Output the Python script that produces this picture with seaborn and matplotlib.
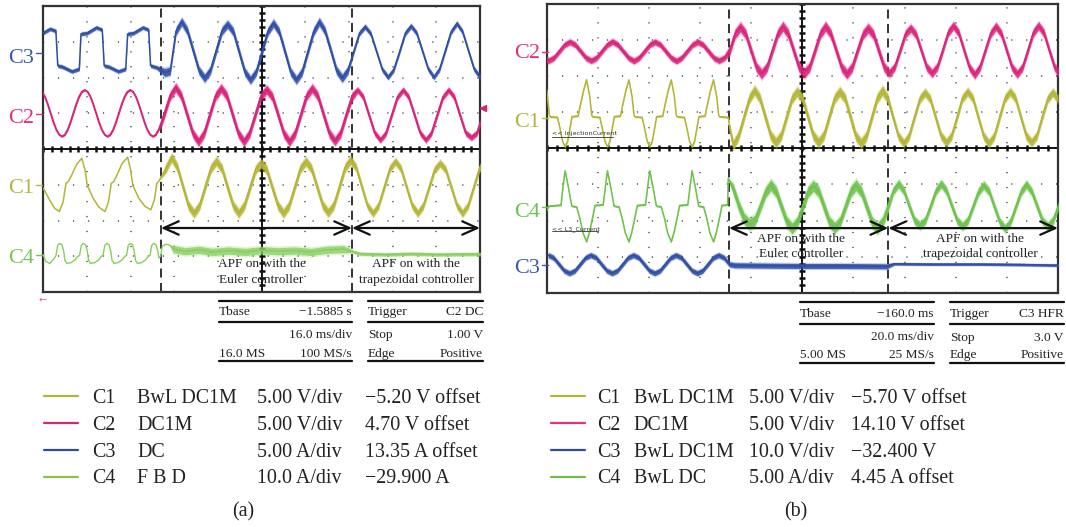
import numpy as np
import matplotlib
matplotlib.use("Agg")
import matplotlib.pyplot as plt
from matplotlib.lines import Line2D
import seaborn as sns

W, H = 1066, 527

# ------------------------------------------------------------------
# (a) 16 ms/div : time in ms, level in screen divisions (centre = 0)
# ------------------------------------------------------------------
A_SPAN, A_EULER, A_TRAP = 160.0, 43.1, 113.1

c3a_key_t = [0.0, 2.5, 4.6, 5.3, 7.0, 10.5, 13.2, 13.8, 16.0, 19.5, 21.6, 22.3,
             24.0, 27.5, 30.2, 30.9, 33.0, 36.5, 38.6, 39.3, 41.5, 44.5, 46.5]
c3a_key_v = [3.25, 3.36, 3.30, 2.33, 2.30, 2.17, 2.24, 3.22, 3.24, 3.40, 3.33, 2.33,
             2.30, 2.17, 2.24, 3.22, 3.24, 3.40, 3.33, 2.33, 2.28, 2.14, 2.18]
c3a_t0, c3a_dt = 48.62, 2.10
c3a_v = [3.30, 3.56, 3.30, 2.75, 2.20, 1.98, 2.20, 2.75,
         3.30, 3.49, 3.28, 2.72, 2.16, 1.93, 2.16, 2.72,
         3.28, 3.52, 3.28, 2.72, 2.16, 1.93, 2.16, 2.72,
         3.28, 3.56, 3.30, 2.76, 2.20, 1.98, 2.20, 2.72,
         3.24, 3.42, 3.22, 2.72, 2.22, 2.01, 2.22, 2.72,
         3.24, 3.44, 3.24, 2.74, 2.24, 2.01, 2.24, 2.76,
         3.28, 3.51, 3.28, 2.76, 2.24, 2.02, 2.24]

# C2 before the APF is a clean sine, sampled finer
c2a_pre_t0, c2a_pre_dt = -1.47, 1.0417
c2a_pre_v = [1.65, 1.60, 1.46, 1.25, 1.00, 0.75, 0.54, 0.40, 0.35, 0.40, 0.54, 0.75, 1.00, 1.25, 1.46, 1.60,
             1.65, 1.60, 1.46, 1.25, 1.00, 0.75, 0.54, 0.40, 0.35, 0.40, 0.54, 0.75, 1.00, 1.25, 1.46, 1.60,
             1.65, 1.60, 1.46, 1.25, 1.00, 0.75, 0.54, 0.40, 0.35, 0.40, 0.54, 0.75]
c2a_t0, c2a_dt = 44.36, 2.083
c2a_v = [0.98, 1.48,
         1.72, 1.48, 0.96, 0.44, 0.20, 0.44, 0.96, 1.48,
         1.70, 1.48, 0.96, 0.44, 0.20, 0.44, 0.96, 1.48,
         1.66, 1.46, 0.96, 0.44, 0.20, 0.44, 0.96, 1.48,
         1.70, 1.48, 0.96, 0.44, 0.22, 0.44, 0.96, 1.46,
         1.65, 1.45, 0.95, 0.45, 0.25, 0.45, 0.95, 1.45,
         1.65, 1.45, 0.95, 0.45, 0.25, 0.45, 0.95, 1.45,
         1.65, 1.45, 0.95, 0.45, 0.32, 0.45, 0.95]

c1a_key_t = [0.0, 2.5, 4.2, 5.9, 7.3, 8.3, 9.2, 10.4, 12.3, 14.1, 15.3, 16.1, 16.9, 18.3, 20.3, 22.6,
             23.9, 24.9, 25.8, 27.0, 28.9, 30.9, 32.0, 32.8, 33.6, 35.0, 37.2, 39.4, 40.7, 41.6, 42.5]
c1a_key_v = [-1.10, -1.45, -1.66, -1.75, -1.47, -0.96, -0.91, -0.73, -0.42, -0.26, -0.59, -1.01,
             -1.15, -1.38, -1.62, -1.75, -1.47, -0.96, -0.91, -0.73, -0.40, -0.23, -0.59, -1.01,
             -1.15, -1.38, -1.60, -1.70, -1.42, -0.96, -0.88]
c1a_t0, c1a_dt = 44.95, 2.05
c1a_v = [-0.54, -0.24, -0.50, -1.04, -1.58, -1.80, -1.58, -1.06,
         -0.55, -0.34, -0.55, -1.07, -1.58, -1.80, -1.58, -1.08,
         -0.58, -0.40, -0.58, -1.08, -1.58, -1.80, -1.58, -1.07,
         -0.55, -0.35, -0.55, -1.06, -1.57, -1.78, -1.57, -1.05,
         -0.52, -0.31, -0.52, -1.06, -1.58, -1.80, -1.58, -1.07,
         -0.55, -0.35, -0.55, -1.07, -1.58, -1.80, -1.58, -1.08,
         -0.58, -0.40, -0.58, -1.08, -1.58, -1.80, -1.58, -1.07,
         -0.55, -0.34]

c4a_t = [0.0, 0.8, 2.4, 4.0, 4.65, 5.25, 5.95, 6.85, 7.45, 7.95, 8.65, 10.15, 11.65, 12.7,
         13.3, 13.9, 14.6, 15.5, 16.1, 16.6, 17.3, 18.8, 20.3, 21.3,
         21.9, 22.5, 23.2, 24.1, 24.7, 25.2, 25.9, 27.4, 28.9, 29.9,
         30.5, 31.1, 31.8, 32.7, 33.3, 33.8, 34.5, 36.0, 37.5, 38.5,
         39.1, 39.7, 40.4, 41.3, 41.9, 42.4, 43.0, 43.6, 45.0, 46.5, 47.5,
         52, 57, 62, 68, 74, 80, 86, 92, 98, 104, 110, 113.1, 116, 125, 135, 145, 155, 160.5]
c4a_v = [-2.96, -3.14, -3.20, -3.06, -2.98, -2.70, -2.64, -2.68, -2.85, -3.12, -3.20, -3.18, -3.10, -3.00,
         -2.98, -2.70, -2.64, -2.68, -2.85, -3.12, -3.20, -3.18, -3.10, -3.00,
         -2.98, -2.70, -2.64, -2.68, -2.85, -3.12, -3.20, -3.18, -3.10, -3.00,
         -2.98, -2.70, -2.64, -2.68, -2.85, -3.12, -3.20, -3.18, -3.10, -3.00,
         -2.98, -2.70, -2.64, -2.68, -2.85, -3.05, -3.00, -2.72, -2.66, -2.70, -2.80,
         -2.86, -2.82, -2.88, -2.84, -2.88, -2.83, -2.86, -2.84, -2.88, -2.82, -2.80, -2.86,
         -2.93, -2.95, -2.93, -2.95, -2.94, -2.94]

# ------------------------------------------------------------------
# (b) 20 ms/div
# ------------------------------------------------------------------
B_SPAN, B_EULER, B_TRAP = 200.0, 71.3, 133.6

c2b_t0, c2b_dt = -1.32, 2.083
c2b_v = [2.51, 2.43, 2.51, 2.69, 2.87, 2.95, 2.87, 2.69,
         2.51, 2.43, 2.51, 2.69, 2.87, 2.96, 2.87, 2.69,
         2.51, 2.42, 2.51, 2.69, 2.87, 2.95, 2.87, 2.69,
         2.51, 2.42, 2.51, 2.69, 2.87, 2.95, 2.87, 2.69,
         2.51, 2.43, 2.51, 2.71, 3.17, 3.36, 3.17, 2.71,
         2.25, 2.06, 2.25, 2.71, 3.17, 3.38, 3.17, 2.71,
         2.25, 2.08, 2.25, 2.71, 3.17, 3.38, 3.17, 2.71,
         2.25, 2.06, 2.25, 2.71, 3.15, 3.33, 3.15, 2.70,
         2.25, 2.08, 2.26, 2.71, 3.17, 3.33, 3.15, 2.70,
         2.25, 2.08, 2.26, 2.72, 3.20, 3.40, 3.20, 2.72,
         2.25, 2.04, 2.25, 2.72, 3.18, 3.38, 3.18, 2.72,
         2.25, 2.06, 2.25, 2.72, 3.20, 3.40, 3.20, 2.72,
         2.25, 2.06]

c1b_key_t = [0.0, 1.05, 1.35, 4.2, 5.2, 6.2, 7.2, 8.2, 9.2, 9.9, 12.3, 13.0, 14.4, 15.6, 16.8, 17.6, 17.9,
             20.75, 21.75, 22.75, 23.75, 24.75, 25.75, 26.45, 28.85, 29.55, 30.95, 32.15, 33.35, 34.15, 34.45,
             37.3, 38.3, 39.3, 40.3, 41.3, 42.3, 43.0, 45.4, 46.1, 47.5, 48.7, 49.9, 50.7, 51.0,
             53.85, 54.85, 55.85, 56.85, 57.85, 58.85, 59.55, 61.95, 62.65, 64.05, 65.25, 66.45, 67.25, 67.55,
             71.0, 72.0]
c1b_key_v = [1.62, 0.92, 0.875, 0.86, 0.55, 0.20, 0.04, 0.20, 0.60, 0.88, 0.90, 1.15, 1.60, 1.90, 1.45, 0.92, 0.875,
             0.86, 0.55, 0.20, 0.04, 0.20, 0.60, 0.88, 0.90, 1.15, 1.60, 1.90, 1.45, 0.92, 0.875,
             0.86, 0.55, 0.20, 0.04, 0.20, 0.60, 0.88, 0.90, 1.15, 1.60, 1.90, 1.45, 0.92, 0.875,
             0.86, 0.55, 0.20, 0.04, 0.20, 0.60, 0.88, 0.90, 1.15, 1.60, 1.90, 1.45, 0.92, 0.875,
             0.86, 0.40]
c1b_t0, c1b_dt = 73.0, 2.083
c1b_v = [0.09, 0.36, 0.87, 1.38, 1.61, 1.38, 0.87, 0.36,
         0.16, 0.36, 0.87, 1.38, 1.57, 1.38, 0.87, 0.36,
         0.16, 0.36, 0.87, 1.38, 1.57, 1.38, 0.86, 0.34,
         0.14, 0.34, 0.86, 1.38, 1.60, 1.38, 0.86, 0.34,
         0.14, 0.34, 0.86, 1.36, 1.55, 1.36, 0.85, 0.35,
         0.16, 0.35, 0.86, 1.38, 1.57, 1.38, 0.86, 0.34,
         0.14, 0.34, 0.86, 1.38, 1.57, 1.38, 0.86, 0.35,
         0.16, 0.35, 0.86, 1.36, 1.55, 1.36]

c4b_key_t = [0.0, 0.8, 5.6, 6.3, 7.2, 8.4, 9.8, 11.7, 13.0, 14.2, 15.6, 16.8, 18.0, 18.9, 22.1, 22.8,
             23.75, 24.95, 26.35, 28.25, 29.55, 30.75, 32.15, 33.35, 34.55, 35.45, 38.65, 39.35,
             40.3, 41.5, 42.9, 44.8, 46.1, 47.3, 48.7, 49.9, 51.1, 52.0, 55.2, 55.9,
             56.85, 58.05, 59.45, 61.35, 62.65, 63.85, 65.25, 66.45, 67.65, 68.55, 70.8]
c4b_key_v = [-1.72, -1.60, -1.57, -1.10, -0.62, -1.05, -1.60, -1.62, -1.95, -2.35, -2.59, -2.30, -1.90, -1.58, -1.56, -1.15,
             -0.62, -1.05, -1.60, -1.62, -1.95, -2.35, -2.59, -2.30, -1.90, -1.58, -1.56, -1.15,
             -0.62, -1.05, -1.60, -1.62, -1.95, -2.35, -2.59, -2.30, -1.90, -1.58, -1.56, -1.15,
             -0.62, -1.05, -1.60, -1.62, -1.95, -2.35, -2.59, -2.30, -1.90, -1.58, -1.56]
c4b_t0, c4b_dt = 71.0, 2.083
c4b_v = [-0.83, -1.15, -1.60, -1.95, -2.10, -2.00, -1.62, -1.22,
         -1.02, -1.20, -1.62, -2.04, -2.22, -2.04, -1.62, -1.20,
         -1.04, -1.20, -1.62, -2.04, -2.20, -2.04, -1.62, -1.20,
         -1.02, -1.20, -1.62, -2.04, -2.22, -2.04, -1.62, -1.18,
         -0.98, -1.18, -1.60, -2.00, -2.14, -2.00, -1.60, -1.18,
         -0.98, -1.18, -1.60, -2.00, -2.16, -2.00, -1.60, -1.20,
         -1.02, -1.20, -1.62, -2.04, -2.22, -2.04, -1.62, -1.20,
         -1.00, -1.20, -1.60, -2.00, -2.16, -2.00, -1.60]

c3b_t0, c3b_dt = 0.6, 2.083
c3b_v = [-2.96, -3.03, -3.21, -3.39, -3.46, -3.39, -3.21, -3.03,
         -2.96, -3.03, -3.21, -3.39, -3.46, -3.39, -3.21, -3.03,
         -2.96, -3.03, -3.21, -3.39, -3.46, -3.39, -3.21, -3.03,
         -2.96, -3.03, -3.21, -3.39, -3.46, -3.39, -3.21, -3.03,
         -2.96, -3.03, -3.21]
c3b_key_t = [73.5, 85, 100, 115, 133.0, 136, 150, 170, 185, 200.5]
c3b_key_v = [-3.24, -3.25, -3.26, -3.26, -3.27, -3.20, -3.21, -3.21, -3.22, -3.24]

# legend / readout text
legend_a = [("C1", "BwL DC1M", "5.00 V/div", "\u22125.20 V offset"),
            ("C2", "DC1M", "5.00 V/div", "4.70 V offset"),
            ("C3", "DC", "5.00 A/div", "13.35 A offset"),
            ("C4", "F B D", "10.0 A/div", "\u221229.900 A")]
legend_b = [("C1", "BwL DC1M", "5.00 V/div", "\u22125.70 V offset"),
            ("C2", "DC1M", "5.00 V/div", "14.10 V offset"),
            ("C3", "BwL DC1M", "10.0 V/div", "\u221232.400 V"),
            ("C4", "BwL DC", "5.00 A/div", "4.45 A offset")]
tbase_a = [("Tbase", "\u22121.5885 s"), ("", "16.0 ms/div"), ("16.0 MS", "100 MS/s")]
trig_a = [("Trigger", "C2 DC"), ("Stop", "1.00 V"), ("Edge", "Positive")]
tbase_b = [("Tbase", "\u2212160.0 ms"), ("", "20.0 ms/div"), ("5.00 MS", "25 MS/s")]
trig_b = [("Trigger", "C3 HFR"), ("Stop", "3.0 V"), ("Edge", "Positive")]

OLIVE, MAG, BLUE = "#b4b435", "#d9237b", "#2e4ea6"
GREEN_A, GREEN_B = "#86cf5c", "#6cc24a"
SERIF = ["Liberation Serif", "DejaVu Serif"]

sns.set_theme(style="white")
plt.rcParams["font.family"] = SERIF


def fx(x):
    return x / W


def fy(y):
    return 1 - y / H


def samples(t0, dt, vals):
    return list(t0 + dt * np.arange(len(vals)))


def scope(ax, span, t1, t2):
    div = span / 10
    ax.set_xlim(0, span)
    ax.set_ylim(-4, 4)
    ax.set_xticks([])
    ax.set_yticks([])
    dots = (0, (0.8, 9))
    for k in range(1, 10):
        if k != 5:
            ax.axvline(k * div, color="#555555", lw=1.1, ls=dots, zorder=1)
    for k in (-3, -2, -1, 1, 2, 3):
        ax.axhline(k, color="#555555", lw=1.1, ls=dots, zorder=1)
    ax.axhline(0, color="#111111", lw=1.4, zorder=2)
    ax.axvline(5 * div, color="#111111", lw=1.4, zorder=2)
    xt = np.arange(0, span + 1e-6, div / 5)
    ax.plot(xt, np.zeros_like(xt), ls="none", marker="|", ms=4, mew=1.8, color="#111111", zorder=2)
    yt = np.arange(-4, 4.001, 0.2)
    ax.plot(np.full_like(yt, 5 * div), yt, ls="none", marker="_", ms=4, mew=1.8, color="#111111", zorder=2)
    for tx in (t1, t2):
        ax.axvline(tx, color="#222222", lw=1.3, ls=(0, (5, 3)), zorder=2)
    for s in ax.spines.values():
        s.set_color("#333333")
        s.set_linewidth(1.6)
    y = -2.21
    style = "<->,head_length=0.9,head_width=0.4"
    ax.annotate("", xy=(t2, y), xytext=(t1, y),
                arrowprops=dict(arrowstyle=style, lw=1.6, color="#111111", shrinkA=0, shrinkB=0), zorder=6)
    ax.annotate("", xy=(span, y), xytext=(t2, y),
                arrowprops=dict(arrowstyle=style, lw=1.6, color="#111111", shrinkA=0, shrinkB=0), zorder=6)


def draw(ax, t, v, color, noise, t1, t2, lw=1.1, alpha=0.85):
    t = np.asarray(t, float)
    v = np.asarray(v, float)
    n = np.where(t < t1, noise[0], np.where(t < t2, noise[1], noise[2]))
    # faint halo for the noise spikes, then the dense part of the band
    ax.fill_between(t, v - 1.45 * n, v + 1.45 * n, color=color, alpha=0.25, lw=0, zorder=3)
    ax.fill_between(t, v - n, v + n, color=color, alpha=alpha, lw=0, zorder=3)
    sns.lineplot(x=t, y=v, ax=ax, color=color, lw=lw, estimator=None, sort=False, zorder=4)


fig = plt.figure(figsize=(W / 100, H / 100), dpi=100)
fig.patch.set_facecolor("white")

ax_a = fig.add_axes([fx(43.3), fy(292), fx(480 - 43.3), (292 - 6) / H])
ax_b = fig.add_axes([fx(546.7), fy(292.7), fx(1058 - 546.7), (292.7 - 4) / H])
scope(ax_a, A_SPAN, A_EULER, A_TRAP)
scope(ax_b, B_SPAN, B_EULER, B_TRAP)

draw(ax_a, c3a_key_t + samples(c3a_t0, c3a_dt, c3a_v), c3a_key_v + c3a_v, BLUE, (0.05, 0.11, 0.07), A_EULER, A_TRAP)
draw(ax_a, samples(c2a_pre_t0, c2a_pre_dt, c2a_pre_v) + samples(c2a_t0, c2a_dt, c2a_v), c2a_pre_v + c2a_v,
     MAG, (0.02, 0.12, 0.08), A_EULER, A_TRAP, lw=1.4)
draw(ax_a, c1a_key_t + samples(c1a_t0, c1a_dt, c1a_v), c1a_key_v + c1a_v, OLIVE, (0.0, 0.12, 0.10), A_EULER, A_TRAP)
draw(ax_a, c4a_t, c4a_v, GREEN_A, (0.0, 0.10, 0.045), 47.0, A_TRAP, lw=1.0, alpha=0.75)

draw(ax_b, samples(c2b_t0, c2b_dt, c2b_v), c2b_v, MAG, (0.08, 0.13, 0.11), B_EULER, B_TRAP)
draw(ax_b, c1b_key_t + samples(c1b_t0, c1b_dt, c1b_v), c1b_key_v + c1b_v, OLIVE, (0.02, 0.13, 0.11), B_EULER, B_TRAP)
draw(ax_b, c4b_key_t + samples(c4b_t0, c4b_dt, c4b_v), c4b_key_v + c4b_v, GREEN_B, (0.02, 0.15, 0.11), B_EULER, B_TRAP)
draw(ax_b, samples(c3b_t0, c3b_dt, c3b_v) + c3b_key_t, c3b_v + c3b_key_v, BLUE, (0.07, 0.07, 0.035), B_EULER, B_TRAP)

# channel labels beside the screens
for name, col, x1, ydash, ybase in [("C3", "#3b5ba8", 34, 53.3, 63.3), ("C2", "#e0307f", 34, 114.3, 123.3),
                                    ("C1", "#b4b442", 34, 185, 192.7), ("C4", "#74c655", 34, 255, 263.3),
                                    ("C2", "#e0307f", 540, 51.7, 58.3), ("C1", "#b4b442", 540, 118.3, 126.7),
                                    ("C4", "#6cc24a", 540, 206.7, 216.7), ("C3", "#3b5ba8", 540, 265, 273.3)]:
    fig.text(fx(x1), fy(ybase), name, color=col, fontsize=16, ha="right", va="baseline")
    fig.add_artist(Line2D([fx(x1 + 2), fx(x1 + 8)], [fy(ydash)] * 2, color=col, lw=1.0))

fig.add_artist(Line2D([fx(483)], [fy(108)], marker="<", ms=4, color=MAG, ls="none"))
fig.text(fx(43), fy(303), "\u2190", color="#e0609a", fontsize=7, ha="center", va="baseline",
         family=["DejaVu Sans"])

for x, y, s in [(551.7, 135.5, "<< InjectionCurrent"), (551.7, 230.5, "<< L3_Current")]:
    fig.text(fx(x), fy(y), s, fontsize=4.6, family=["DejaVu Sans"], color="#333333", va="baseline")
fig.add_artist(Line2D([fx(551.7), fx(613)], [fy(136.5)] * 2, color="#333333", lw=0.6))
fig.add_artist(Line2D([fx(551.7), fx(598)], [fy(231.5)] * 2, color="#333333", lw=0.6))

# APF annotations
for cx, y1, y2, l1, l2 in [(261.5, 266.7, 283.3, "APF on with the", "Euler controller"),
                           (416, 266.7, 283.3, "APF on with the", "trapezoidal controller"),
                           (801, 241.7, 257.3, "APF on with the", "Euler controller"),
                           (980.5, 241.7, 257.3, "APF on with the", "trapezoidal controller")]:
    fig.text(fx(cx), fy(y1), l1, fontsize=9.6, ha="center", va="baseline", color="#222222")
    fig.text(fx(cx), fy(y2), l2, fontsize=9.6, ha="center", va="baseline", color="#222222")


def table(x0, x1, ylines, ybases, rows):
    for y in ylines:
        fig.add_artist(Line2D([fx(x0), fx(x1)], [fy(y)] * 2, color="#111111", lw=1.6))
    for yb, (left, right) in zip(ybases, rows):
        fig.text(fx(x0), fy(yb), left, fontsize=9.6, ha="left", va="baseline", color="#222222")
        fig.text(fx(x1), fy(yb), right, fontsize=9.6, ha="right", va="baseline", color="#222222")


table(219, 352, [300.7, 321.7, 360.7], [315, 338.3, 356.7], tbase_a)
table(368, 483, [300.7, 321.7, 360.7], [315, 338.3, 356.7], trig_a)
table(800, 933.7, [301.7, 324, 362.7], [317.3, 340.3, 358.3], tbase_b)
table(950, 1063.8, [301.7, 324, 362.7], [317.3, 340.7, 358.3], trig_b)


def legend(x_line, cols, rows, colours):
    for (ly, yb), row, col in zip([(396, 402.7), (423.3, 430), (450.3, 456.7), (477, 483.3)], rows, colours):
        fig.add_artist(Line2D([fx(x_line[0]), fx(x_line[1])], [fy(ly)] * 2, color=col, lw=1.6))
        for x, s in zip(cols, row):
            fig.text(fx(x), fy(yb), s, fontsize=14.4, ha="left", va="baseline", color="#222222")


legend((44, 78), (92, 137, 257, 365), legend_a, ["#b5b53c", "#cc2a78", "#2f4d9e", "#8ac34a"])
legend((550.6, 585), (597.6, 633.7, 749.4, 850.6), legend_b, ["#b5b53c", "#e0307f", "#2f4d9e", "#6cbf4b"])
fig.text(fx(243), fy(516.5), "(a)", fontsize=14.4, ha="center", va="baseline", color="#222222")
fig.text(fx(796), fy(516.5), "(b)", fontsize=14.4, ha="center", va="baseline", color="#222222")

fig.savefig("out.png", dpi=100)
